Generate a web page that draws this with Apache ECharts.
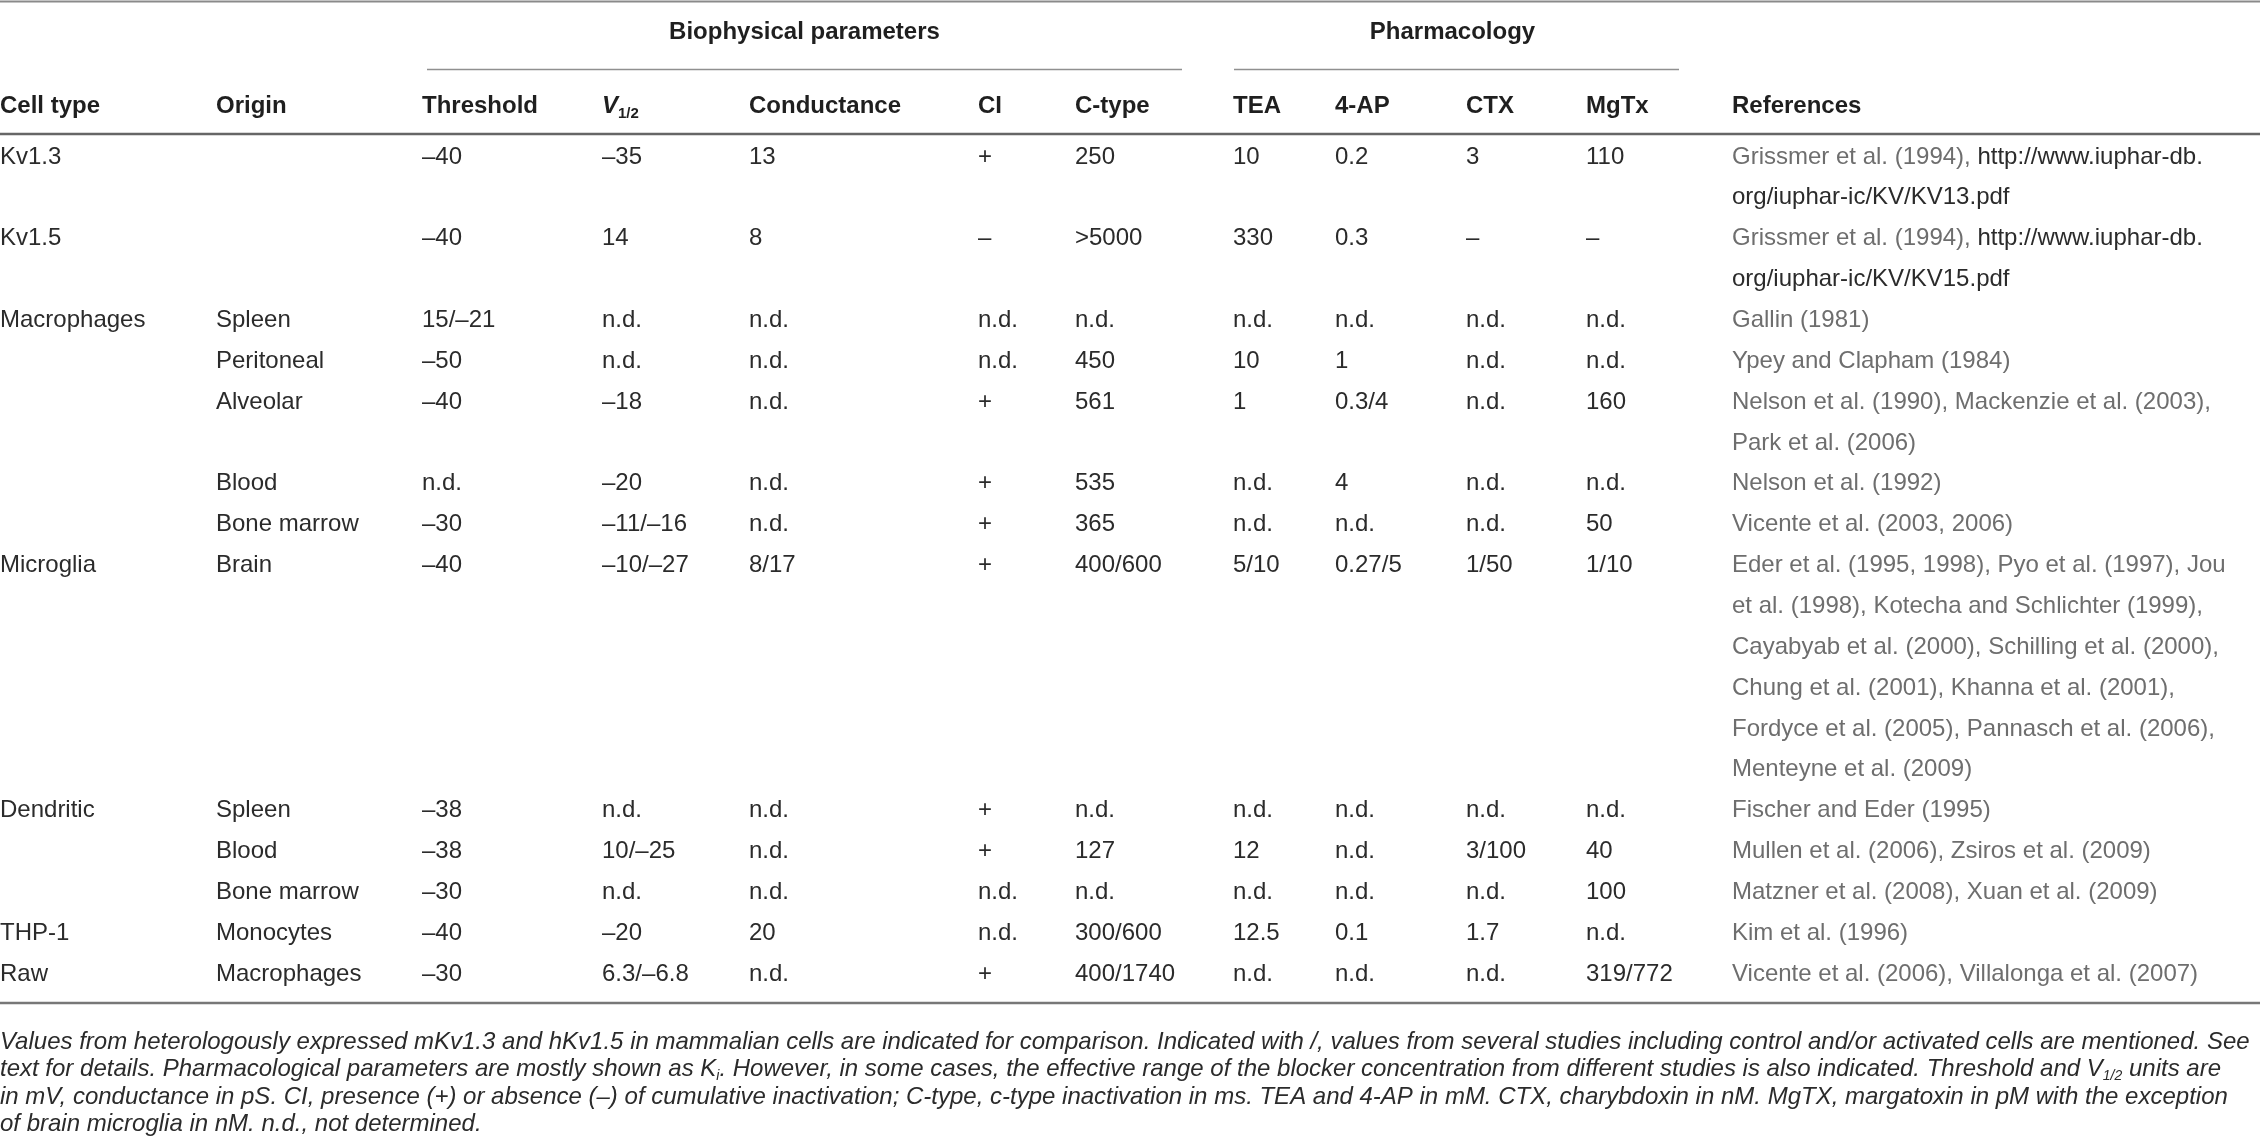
<!DOCTYPE html>
<html lang="en">
<head>
<meta charset="UTF-8">
<title>Kv channel properties in immune cells</title>
<script src="https://cdn.jsdelivr.net/npm/echarts@6/dist/echarts.min.js"></script>
<style>
  html, body { margin: 0; padding: 0; background: #fff; }
  #chart { width: 2260px; height: 1148px; }
</style>
</head>
<body>
<div id="chart"></div>
<script>
// ---- table content (one entry per row) ----
const cellTypes    = ['Kv1.3', 'Kv1.5', 'Macrophages', '', '', '', '', 'Microglia', 'Dendritic', '', '', 'THP-1', 'Raw'];
const origins      = ['', '', 'Spleen', 'Peritoneal', 'Alveolar', 'Blood', 'Bone marrow', 'Brain', 'Spleen', 'Blood', 'Bone marrow', 'Monocytes', 'Macrophages'];
const thresholds   = ['–40', '–40', '15/–21', '–50', '–40', 'n.d.', '–30', '–40', '–38', '–38', '–30', '–40', '–30'];
const halfVoltages = ['–35', '14', 'n.d.', 'n.d.', '–18', '–20', '–11/–16', '–10/–27', 'n.d.', '10/–25', 'n.d.', '–20', '6.3/–6.8'];
const conductances = ['13', '8', 'n.d.', 'n.d.', 'n.d.', 'n.d.', 'n.d.', '8/17', 'n.d.', 'n.d.', 'n.d.', '20', 'n.d.'];
const cumulative   = ['+', '–', 'n.d.', 'n.d.', '+', '+', '+', '+', '+', '+', 'n.d.', 'n.d.', '+'];
const cTypes       = ['250', '>5000', 'n.d.', '450', '561', '535', '365', '400/600', 'n.d.', '127', 'n.d.', '300/600', '400/1740'];
const teaValues    = ['10', '330', 'n.d.', '10', '1', 'n.d.', 'n.d.', '5/10', 'n.d.', '12', 'n.d.', '12.5', 'n.d.'];
const apValues     = ['0.2', '0.3', 'n.d.', '1', '0.3/4', '4', 'n.d.', '0.27/5', 'n.d.', 'n.d.', 'n.d.', '0.1', 'n.d.'];
const ctxValues    = ['3', '–', 'n.d.', 'n.d.', 'n.d.', 'n.d.', 'n.d.', '1/50', 'n.d.', '3/100', 'n.d.', '1.7', 'n.d.'];
const mgtxValues   = ['110', '–', 'n.d.', 'n.d.', '160', 'n.d.', '50', '1/10', 'n.d.', '40', '100', 'n.d.', '319/772'];
const references = [
  ['Grissmer et al. (1994), http://www.iuphar-db.', 'org/iuphar-ic/KV/KV13.pdf'],
  ['Grissmer et al. (1994), http://www.iuphar-db.', 'org/iuphar-ic/KV/KV15.pdf'],
  ['Gallin (1981)'],
  ['Ypey and Clapham (1984)'],
  ['Nelson et al. (1990), Mackenzie et al. (2003),', 'Park et al. (2006)'],
  ['Nelson et al. (1992)'],
  ['Vicente et al. (2003, 2006)'],
  ['Eder et al. (1995, 1998), Pyo et al. (1997), Jou',
   'et al. (1998), Kotecha and Schlichter (1999),',
   'Cayabyab et al. (2000), Schilling et al. (2000),',
   'Chung et al. (2001), Khanna et al. (2001),',
   'Fordyce et al. (2005), Pannasch et al. (2006),',
   'Menteyne et al. (2009)'],
  ['Fischer and Eder (1995)'],
  ['Mullen et al. (2006), Zsiros et al. (2009)'],
  ['Matzner et al. (2008), Xuan et al. (2009)'],
  ['Kim et al. (1996)'],
  ['Vicente et al. (2006), Villalonga et al. (2007)']
];

const groupHeaders  = ['Biophysical parameters', 'Pharmacology'];
const columnHeaders = ['Cell type', 'Origin', 'Threshold', 'V_(1/2)', 'Conductance', 'CI', 'C-type', 'TEA', '4-AP', 'CTX', 'MgTx', 'References'];
const footnotes = [
  'Values from heterologously expressed mKv1.3 and hKv1.5 in mammalian cells are indicated for comparison. Indicated with /, values from several studies including control and/or activated cells are mentioned. See',
  'text for details. Pharmacological parameters are mostly shown as K_(i). However, in some cases, the effective range of the blocker concentration from different studies is also indicated. Threshold and V_(1/2) units are',
  'in mV, conductance in pS. CI, presence (+) or absence (–) of cumulative inactivation; C-type, c-type inactivation in ms. TEA and 4-AP in mM. CTX, charybdoxin in nM. MgTX, margatoxin in pM with the exception',
  'of brain microglia in nM. n.d., not determined.'
];

// ---- layout ----
const FONT = '"Liberation Sans", Arial, Helvetica, sans-serif';
const colX = [0, 216, 422, 602, 749, 978, 1075, 1233, 1335, 1466, 1586, 1732];
const W = 2260;

// each row starts on the line after the previous row's references
const startLine = [];
let acc = 0;
references.forEach(function (r) { startLine.push(acc); acc += r.length; });
const lastLine = acc - 1;

function sub(s, cls) {
  // "X_(ab)" -> rich subscript token
  return '{' + cls + '|' + s.replace(/_\(([^)]*)\)/g, '}{s|$1}{' + cls + '|') + '}';
}
function markRef(s) {
  return '{c|' + s.replace(/(https?:\/\/\S+|org\/\S+)/g, '}{u|$1}{c|') + '}';
}

const refRich = {
  c: { fill: '#6e6e6e', fontSize: 24, fontFamily: FONT },
  u: { fill: '#2b2b2b', fontSize: 24, fontFamily: FONT }
};

function renderRow(params, api) {
  const i = params.dataIndex;
  const line = api.value(1);
  const cells = [cellTypes[i], origins[i], thresholds[i], halfVoltages[i], conductances[i], cumulative[i],
                 cTypes[i], teaValues[i], apValues[i], ctxValues[i], mgtxValues[i]];
  const children = [];
  cells.forEach(function (t, c) {
    if (!t) return;
    const p = api.coord([colX[c], line]);
    children.push({
      type: 'text', x: p[0], y: p[1],
      style: { text: t, fill: '#2b2b2b', fontSize: 24, fontFamily: FONT, textVerticalAlign: 'middle' }
    });
  });
  references[i].forEach(function (r, k) {
    const p = api.coord([colX[11], line + k]);
    children.push({
      type: 'text', x: p[0], y: p[1],
      style: { text: markRef(r), rich: refRich, fontSize: 24, fontFamily: FONT, textVerticalAlign: 'middle' }
    });
  });
  return { type: 'group', children: children };
}

// ---- static header, rules and footnote ----
const graphics = [];
function hline(y, x1, x2, color, w) {
  graphics.push({ type: 'line', shape: { x1: x1, y1: y, x2: x2, y2: y }, style: { stroke: color, lineWidth: w }, silent: true });
}
hline(1.5, 0, W, '#8a8a8a', 2);
hline(69.5, 427, 1182, '#909090', 1.5);
hline(69.5, 1234, 1679, '#909090', 1.5);
hline(134, 0, W, '#666666', 2.5);
hline(1003, 0, W, '#777777', 2.5);

const groupCenters = [(427 + 1182) / 2, (1234 + 1679) / 2 - 4];
groupHeaders.forEach(function (g, k) {
  graphics.push({
    type: 'text', x: groupCenters[k], y: 32,
    style: { text: g, fill: '#1f1f1f', fontSize: 24, fontWeight: 'bold', fontFamily: FONT,
             textAlign: 'center', textVerticalAlign: 'middle' }
  });
});

const headRich = {
  h: { fill: '#1f1f1f', fontSize: 24, fontWeight: 'bold', fontFamily: FONT, lineHeight: 30 },
  s: { fill: '#1f1f1f', fontSize: 15, fontWeight: 'bold', fontFamily: FONT, lineHeight: 14, verticalAlign: 'bottom' }
};
columnHeaders.forEach(function (h, c) {
  const rich = c === 3
    ? Object.assign({}, headRich, { h: Object.assign({}, headRich.h, { fontStyle: 'italic' }) })
    : headRich;
  graphics.push({
    type: 'text', x: colX[c], y: 106,
    style: { text: sub(h, 'h'), rich: rich, textVerticalAlign: 'middle' }
  });
});

const noteRich = {
  n: { fill: '#2b2b2b', fontSize: 24, fontStyle: 'italic', fontFamily: FONT, lineHeight: 27 },
  s: { fill: '#2b2b2b', fontSize: 14, fontStyle: 'italic', fontFamily: FONT, lineHeight: 12, verticalAlign: 'bottom' }
};
footnotes.forEach(function (f, k) {
  graphics.push({
    type: 'text', x: 0, y: 1042 + k * 27.5,
    style: { text: sub(f, 'n'), rich: noteRich, textVerticalAlign: 'middle' }
  });
});

const chart = echarts.init(document.getElementById('chart'));
chart.setOption({
  backgroundColor: '#ffffff',
  animation: false,
  grid: { left: 0, right: 0, top: 157, bottom: 1148 - 974 },
  xAxis: { type: 'value', min: 0, max: W, show: false },
  yAxis: { type: 'value', min: 0, max: lastLine, inverse: true, show: false },
  graphic: graphics,
  series: [{
    type: 'custom',
    coordinateSystem: 'cartesian2d',
    renderItem: renderRow,
    clip: false,
    encode: { x: 0, y: 1 },
    data: startLine.map(function (l) { return [0, l]; })
  }]
});
</script>
</body>
</html>
